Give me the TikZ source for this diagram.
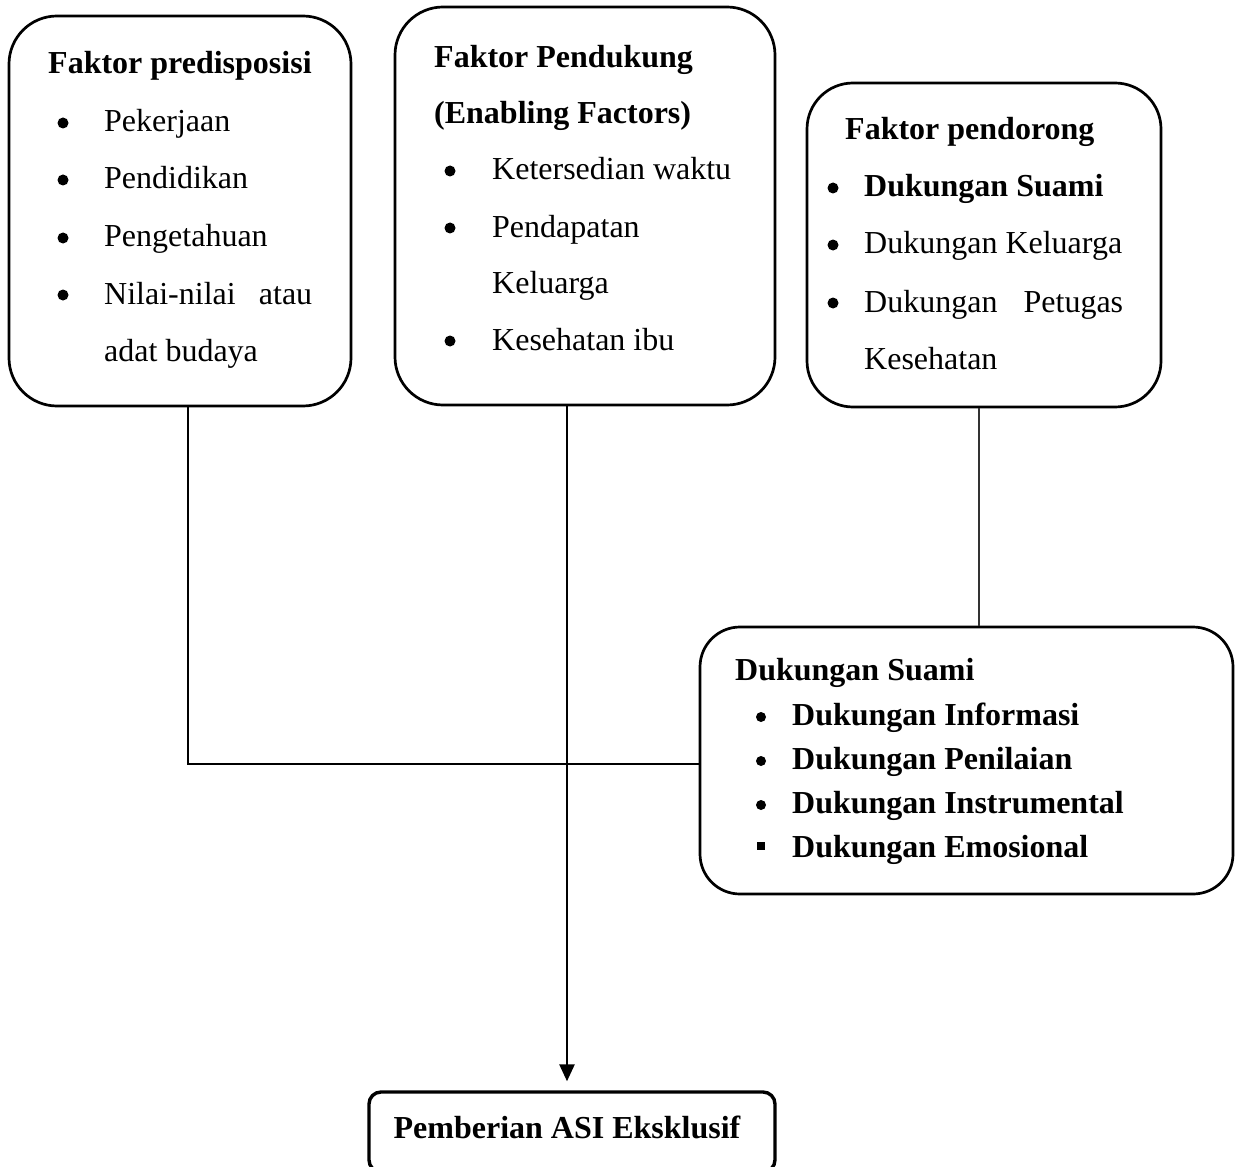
\documentclass[tikz,border=0pt]{standalone}
\usepackage{fontspec}
\setmainfont{Liberation Serif}
\usetikzlibrary{arrows.meta}
\tikzset{
  box/.style={draw, line width=2.7pt, rounded corners=#1, inner sep=0pt},
  txt/.style={anchor=base west, inner sep=0pt, font=\fontsize{32}{38}\selectfont},
  btxt/.style={txt, font=\fontsize{32}{38}\selectfont\bfseries},
  bul/.style={circle, fill, inner sep=0pt, minimum size=11pt},
  sqbul/.style={rectangle, fill, inner sep=0pt, minimum size=8.5pt},
  conn/.style={line width=2.6pt},
  thinconn/.style={line width=1.6pt, draw=black!80},
}
\begin{document}
\begin{tikzpicture}[x=1pt,y=-1pt]
\useasboundingbox (0,0) rectangle (1238,1166);
% boxes
\node[box=48pt, minimum width=342pt, minimum height=390pt] (box1) at (180,211) {};
\node[box=48pt, minimum width=380pt, minimum height=398pt] (box2) at (585,206) {};
\node[box=46pt, minimum width=354pt, minimum height=324pt] (box3) at (984,245) {};
\node[box=40pt, minimum width=533pt, minimum height=267pt] (box4) at (966.5,760.5) {};
\node[box=12pt, line width=3.4pt, minimum width=406pt, minimum height=80pt] (box5) at (572,1132) {};
% box 1 text
\node[btxt] (t1h) at (48,74) {Faktor predisposisi};
\node[bul] (b11) at (63,123) {};
\node[bul] (b12) at (63,180) {};
\node[bul] (b13) at (63,238) {};
\node[bul] (b14) at (63,295) {};
\node[txt] (t11) at (104,132) {Pekerjaan};
\node[txt] (t12) at (104,189) {Pendidikan};
\node[txt] (t13) at (104,247) {Pengetahuan};
\node[txt] (t14) at (104,304) {\makebox[208pt][s]{Nilai-nilai\hfill atau}};
\node[txt] (t15) at (104,361) {adat budaya};
% box 2 text
\node[btxt] (t2h) at (434,68) {Faktor Pendukung};
\node[btxt] (t2h2) at (434,124) {(Enabling Factors)};
\node[bul] (b21) at (450,171) {};
\node[bul] (b22) at (450,228) {};
\node[bul] (b23) at (450,341) {};
\node[txt] (t21) at (492,180) {Ketersedian waktu};
\node[txt] (t22) at (492,237) {Pendapatan};
\node[txt] (t23) at (492,293) {Keluarga};
\node[txt] (t24) at (492,350) {Kesehatan ibu};
% box 3 text
\node[btxt] (t3h) at (845,140) {Faktor pendorong};
\node[bul] (b31) at (833,188) {};
\node[bul] (b32) at (833,245) {};
\node[bul] (b33) at (833,303) {};
\node[btxt] (t31) at (864,197) {Dukungan Suami};
\node[txt] (t32) at (864,254) {Dukungan Keluarga};
\node[txt] (t33) at (864,312) {\makebox[259pt][s]{Dukungan\hfill Petugas}};
\node[txt] (t34) at (864,369) {Kesehatan};
% box 4 text
\node[btxt] (t4h) at (735,680) {Dukungan Suami};
\node[bul, minimum size=10pt] (b41) at (761,717) {};
\node[bul, minimum size=10pt] (b42) at (761,761) {};
\node[bul, minimum size=10pt] (b43) at (761,805) {};
\node[sqbul] (b44) at (761,846) {};
\node[btxt] (t41) at (792,725) {Dukungan Informasi};
\node[btxt] (t42) at (792,769) {Dukungan Penilaian};
\node[btxt] (t43) at (792,813) {Dukungan Instrumental};
\node[btxt] (t44) at (792,857) {Dukungan Emosional};
% box 5 text
\node[btxt, anchor=base] (t5) at (567,1138) {Pemberian ASI Eksklusif};
% connectors
\coordinate (j1) at (188,764);
\coordinate (j2) at (567,764);
\coordinate (j3) at (979,500);
\draw[conn] (box1.south -| j1) -- (j1) -- (j1 -| box4.west);
\draw[conn, -{Triangle[length=17pt,width=15pt]}, shorten >=9pt] (box2.south -| j2) -- (box5.north -| j2);
\draw[thinconn] (box3.south -| j3) -- (box4.north -| j3);
\end{tikzpicture}
\end{document}
